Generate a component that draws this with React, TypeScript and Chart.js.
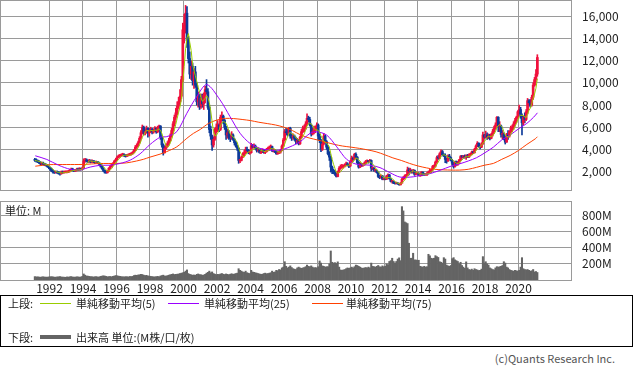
import React, { useEffect, useRef } from 'react';
import { Chart, registerables } from 'chart.js';

Chart.register(...registerables);

// ---- data: monthly candles, Feb 1991 .. Feb 2021 (one line per year) ----
const START_YEAR = 1991;
const START_MONTH = 2;

const opens = [
  3100, 3000, 2950, 2900, 2800, 2700, 2750, 2650, 2600, 2550, 2450,
  2350, 2200, 2050, 1950, 1900, 1950, 1900, 1850, 1800, 1950, 1900, 1950,
  1950, 1950, 2000, 2100, 2200, 2150, 2050, 2100, 2200, 2150, 2250, 2200,
  2300, 2950, 3050, 2950, 2900, 3000, 2850, 2950, 2900, 2800, 2850, 2800,
  2700, 2500, 2300, 2100, 1950, 1900, 2050, 2300, 2450, 2600, 2750, 2950,
  3100, 3300, 3400, 3450, 3500, 3550, 3450, 3400, 3450, 3500, 3550, 3600,
  3700, 3900, 4200, 4350, 4600, 5000, 5500, 6000, 5500, 5600, 5900, 5500,
  5700, 5800, 5600, 5700, 5900, 5600, 6000, 6100, 5100, 4400, 3700, 4100,
  4300, 4500, 4800, 5200, 5700, 6300, 6900, 7300, 7900, 8300, 8800, 10300,
  14800, 15200, 16300, 13800, 12200, 10800, 11500, 10200, 11000, 9800, 8300, 8800,
  7900, 8600, 8100, 8900, 9400, 9200, 7800, 5800, 5200, 4400, 4900, 5800,
  6000, 6200, 5800, 6900, 7000, 6600, 6000, 5300, 5500, 5100, 5000, 5300,
  4900, 4600, 4300, 4100, 3000, 3000, 3300, 3500, 3700, 4000, 3900, 3700,
  3700, 4300, 4200, 4300, 4100, 3900, 4000, 3700, 3800, 3950, 3700, 3800,
  4000, 4000, 4200, 4250, 3900, 3900, 3800, 3600, 3700, 3750, 3900, 4300,
  4850, 5600, 5500, 5400, 5900, 5200, 5100, 5200, 5000, 4700, 4800, 4500,
  5100, 5600, 5900, 5900, 6300, 6800, 6700, 6200, 5400, 5600, 5700, 5900,
  6200, 5200, 4800, 4000, 4500, 5200, 4700, 4200, 3600, 3300, 2400, 2000,
  1950, 1750, 1550, 1950, 2300, 2400, 2450, 2500, 2550, 2700, 2600, 2500,
  2900, 3200, 3100, 3550, 3300, 2800, 2400, 2700, 2600, 2600, 2700, 2900,
  2950, 2900, 3000, 2300, 2300, 2100, 2100, 1900, 1550, 1450, 1600, 1300,
  1350, 1300, 1600, 1700, 1350, 1100, 1100, 950, 900, 950, 870, 800,
  950, 1300, 1450, 1600, 1650, 2150, 2050, 2100, 1950, 2100, 1750, 1850,
  1850, 1650, 1650, 1950, 1750, 1700, 1700, 1850, 1950, 2050, 2150, 2450,
  2500, 2850, 3250, 3200, 3600, 3800, 3500, 3450, 3100, 2950, 3400, 3250,
  3000, 2750, 2450, 2900, 2650, 2800, 3050, 3350, 3300, 3350, 3300, 3400,
  3300, 3500, 3550, 3750, 3700, 4000, 4300, 4550, 4250, 4200, 4500, 5300,
  5100, 5300, 5100, 5150, 5000, 5300, 5600, 5900, 6200, 6900, 6100, 6100,
  5350, 5400, 5000, 4650, 5300, 5200, 5600, 5900, 6000, 6300, 6600, 6900,
  7400, 7600, 7000, 6400, 6900, 6700, 7400, 8400, 8200, 8000, 8700, 9800,
  10300, 10800,
];

const highs = [
  3200, 3150, 3050, 2980, 2900, 2850, 2850, 2750, 2700, 2650, 2500,
  2400, 2300, 2150, 2050, 2050, 2050, 1980, 1950, 2050, 2050, 2050, 2050,
  2050, 2100, 2200, 2300, 2300, 2200, 2200, 2300, 2300, 2350, 2300, 2400,
  3150, 3200, 3150, 3050, 3100, 3050, 3050, 3000, 2950, 2950, 2900, 2850,
  2750, 2600, 2350, 2150, 2000, 2100, 2350, 2550, 2700, 2800, 3000, 3200,
  3400, 3500, 3550, 3600, 3650, 3600, 3500, 3550, 3600, 3650, 3700, 3800,
  4000, 4350, 4500, 4750, 5150, 5700, 6200, 6100, 5800, 6100, 5950, 5900,
  6000, 5900, 5850, 6050, 5950, 6100, 6200, 6150, 5200, 4500, 4300, 4500,
  4700, 5000, 5400, 5900, 6500, 7100, 7700, 8300, 8700, 9400, 10600, 15400,
  16200, 17000, 16900, 14200, 12800, 12000, 11800, 11300, 11500, 10000, 9200, 9000,
  9000, 9000, 9100, 9700, 10300, 9500, 8000, 6100, 5300, 5100, 5900, 6300,
  6600, 6300, 7100, 7400, 7100, 6700, 6100, 5800, 5700, 5300, 5600, 5400,
  5000, 4700, 4400, 4150, 3200, 3400, 3700, 3900, 4200, 4200, 4000, 3900,
  4550, 4450, 4500, 4400, 4200, 4150, 4050, 3900, 4050, 4000, 3900, 4100,
  4200, 4300, 4400, 4300, 4050, 4000, 3900, 3800, 3850, 4000, 4400, 5000,
  5800, 5900, 5800, 6000, 6000, 5400, 5400, 5300, 5100, 5000, 4900, 5200,
  5800, 6100, 6200, 6500, 7200, 7000, 6900, 6300, 5900, 6100, 6100, 6400,
  6300, 5400, 4900, 4700, 5450, 5300, 4800, 4300, 3800, 3350, 2500, 2200,
  2100, 1850, 2050, 2450, 2600, 2650, 2600, 2700, 2850, 2800, 2650, 3000,
  3400, 3300, 3650, 3690, 3350, 2900, 2800, 2750, 2700, 2850, 3000, 3050,
  3000, 3100, 3050, 2400, 2350, 2200, 2150, 1950, 1650, 1700, 1650, 1400,
  1450, 1650, 1800, 1750, 1400, 1200, 1150, 1000, 1050, 1000, 900, 1000,
  1400, 1550, 1700, 1750, 2400, 2300, 2300, 2150, 2200, 2150, 1950, 1950,
  1900, 1800, 2000, 1950, 1800, 1800, 1950, 2050, 2200, 2200, 2550, 2600,
  2950, 3400, 3450, 3700, 3950, 3900, 3600, 3600, 3200, 3500, 3550, 3300,
  3100, 2800, 2950, 2950, 2900, 3100, 3450, 3450, 3450, 3500, 3500, 3550,
  3600, 3650, 3850, 3850, 4100, 4400, 4700, 4600, 4350, 4600, 5550, 5350,
  5650, 5500, 5400, 5350, 5450, 5800, 6100, 6400, 6950, 6950, 6500, 6200,
  5700, 5500, 5200, 5450, 5700, 5700, 6100, 6200, 6500, 6800, 7000, 7500,
  8000, 7800, 7200, 7000, 7300, 7600, 8600, 8500, 8500, 8900, 10000, 10500,
  11200, 12550,
];

const lows = [
  2900, 2850, 2800, 2700, 2600, 2620, 2580, 2520, 2480, 2380, 2250,
  2100, 1980, 1850, 1820, 1850, 1820, 1750, 1660, 1750, 1820, 1850, 1870,
  1880, 1900, 1950, 2050, 2050, 1980, 2000, 2050, 2080, 2100, 2120, 2150,
  2280, 2850, 2850, 2800, 2820, 2780, 2800, 2800, 2700, 2750, 2700, 2600,
  2400, 2200, 2000, 1850, 1820, 1850, 2000, 2250, 2400, 2550, 2700, 2900,
  3050, 3250, 3300, 3380, 3400, 3350, 3300, 3350, 3400, 3450, 3480, 3550,
  3650, 3850, 4100, 4250, 4550, 4950, 5400, 5300, 5300, 5450, 5100, 5200,
  5500, 5400, 5450, 5550, 5450, 5500, 5800, 4900, 4200, 3480, 3650, 4000,
  4200, 4400, 4700, 5100, 5500, 6100, 6700, 7100, 7700, 8100, 8600, 10100,
  13600, 14500, 13200, 11800, 10400, 10300, 9800, 9500, 9600, 8000, 7800, 7600,
  7700, 7800, 7600, 8200, 9000, 7600, 5500, 4900, 3900, 4200, 4800, 5500,
  5600, 5600, 5700, 6600, 6300, 5800, 4900, 5000, 4900, 4700, 4900, 4800,
  4400, 4200, 3900, 2740, 2800, 2950, 3250, 3400, 3600, 3750, 3600, 3550,
  3650, 4100, 4100, 4000, 3750, 3800, 3650, 3600, 3700, 3650, 3600, 3750,
  3850, 3900, 4050, 3800, 3750, 3700, 3550, 3550, 3600, 3650, 3850, 4250,
  4800, 5300, 5200, 5300, 5000, 4800, 4900, 4800, 4500, 4550, 4400, 4450,
  5000, 5500, 5600, 5800, 6200, 6500, 6100, 5200, 5300, 5400, 5500, 5800,
  4900, 4600, 3800, 3900, 4400, 4600, 4000, 3500, 3000, 1950, 1800, 1800,
  1650, 1500, 1520, 1900, 2200, 2300, 2300, 2400, 2500, 2500, 2350, 2450,
  2850, 3000, 3050, 3200, 2700, 2300, 2350, 2450, 2450, 2550, 2650, 2850,
  2750, 2850, 2050, 2150, 2000, 1950, 1850, 1450, 1350, 1400, 1250, 1250,
  1250, 1280, 1550, 1300, 1050, 950, 900, 860, 880, 850, 772, 780,
  950, 1250, 1350, 1500, 1600, 1700, 1850, 1850, 1850, 1650, 1700, 1750,
  1600, 1550, 1600, 1650, 1650, 1650, 1650, 1800, 1850, 1900, 2100, 2300,
  2400, 2800, 3100, 3150, 3550, 3400, 3350, 2800, 2750, 2900, 3150, 2950,
  2600, 2300, 2400, 2550, 2550, 2700, 2950, 3200, 3200, 3200, 3100, 3250,
  3250, 3400, 3500, 3600, 3650, 3950, 4250, 4200, 4050, 4150, 4450, 5000,
  5000, 4900, 4950, 4850, 4950, 5200, 5450, 5800, 6100, 5600, 5600, 5100,
  4950, 4850, 4480, 4650, 4900, 5100, 5500, 5600, 5800, 6100, 6400, 6800,
  7200, 6800, 5300, 6200, 6400, 6600, 7200, 7900, 7800, 7900, 8500, 9700,
  10100, 10600,
];

const closes = [
  3000, 2950, 2900, 2800, 2700, 2750, 2650, 2600, 2550, 2450, 2350,
  2200, 2050, 1950, 1900, 1950, 1900, 1850, 1800, 1950, 1900, 1950, 1950,
  1950, 2000, 2100, 2200, 2150, 2050, 2100, 2200, 2150, 2250, 2200, 2300,
  2950, 3050, 2950, 2900, 3000, 2850, 2950, 2900, 2800, 2850, 2800, 2700,
  2500, 2300, 2100, 1950, 1900, 2050, 2300, 2450, 2600, 2750, 2950, 3100,
  3300, 3400, 3450, 3500, 3550, 3450, 3400, 3450, 3500, 3550, 3600, 3700,
  3900, 4200, 4350, 4600, 5000, 5500, 6000, 5500, 5600, 5900, 5500, 5700,
  5800, 5600, 5700, 5900, 5600, 6000, 6100, 5100, 4400, 3700, 4100, 4300,
  4500, 4800, 5200, 5700, 6300, 6900, 7300, 7900, 8300, 8800, 10300, 14800,
  15200, 16300, 13800, 12200, 10800, 11500, 10200, 11000, 9800, 8300, 8800, 7900,
  8600, 8100, 8900, 9400, 9200, 7800, 5800, 5200, 4400, 4900, 5800, 6000,
  6200, 5800, 6900, 7000, 6600, 6000, 5300, 5500, 5100, 5000, 5300, 4900,
  4600, 4300, 4100, 3000, 3000, 3300, 3500, 3700, 4000, 3900, 3700, 3700,
  4300, 4200, 4300, 4100, 3900, 4000, 3700, 3800, 3950, 3700, 3800, 4000,
  4000, 4200, 4250, 3900, 3900, 3800, 3600, 3700, 3750, 3900, 4300, 4850,
  5600, 5500, 5400, 5900, 5200, 5100, 5200, 5000, 4700, 4800, 4500, 5100,
  5600, 5900, 5900, 6300, 6800, 6700, 6200, 5400, 5600, 5700, 5900, 6200,
  5200, 4800, 4000, 4500, 5200, 4700, 4200, 3600, 3300, 2400, 2000, 1950,
  1750, 1550, 1950, 2300, 2400, 2450, 2500, 2550, 2700, 2600, 2500, 2900,
  3200, 3100, 3550, 3300, 2800, 2400, 2700, 2600, 2600, 2700, 2900, 2950,
  2900, 3000, 2300, 2300, 2100, 2100, 1900, 1550, 1450, 1600, 1300, 1350,
  1300, 1600, 1700, 1350, 1100, 1100, 950, 900, 950, 870, 800, 950,
  1300, 1450, 1600, 1650, 2150, 2050, 2100, 1950, 2100, 1750, 1850, 1850,
  1650, 1650, 1950, 1750, 1700, 1700, 1850, 1950, 2050, 2150, 2450, 2500,
  2850, 3250, 3200, 3600, 3800, 3500, 3450, 3100, 2950, 3400, 3250, 3000,
  2750, 2450, 2900, 2650, 2800, 3050, 3350, 3300, 3350, 3300, 3400, 3300,
  3500, 3550, 3750, 3700, 4000, 4300, 4550, 4250, 4200, 4500, 5300, 5100,
  5300, 5100, 5150, 5000, 5300, 5600, 5900, 6200, 6900, 6100, 6100, 5350,
  5400, 5000, 4650, 5300, 5200, 5600, 5900, 6000, 6300, 6600, 6900, 7400,
  7600, 7000, 6400, 6900, 6700, 7400, 8400, 8200, 8000, 8700, 9800, 10300,
  10800, 12300,
];

// volume, millions of shares
const volumes = [
  42, 38, 40, 36, 35, 38, 40, 37, 35, 36, 38,
  40, 42, 38, 36, 35, 38, 40, 42, 38, 36, 35, 34,
  38, 36, 40, 42, 38, 35, 36, 40, 38, 36, 37, 45,
  75, 60, 50, 48, 45, 42, 40, 38, 40, 42, 38, 36,
  45, 48, 52, 50, 45, 40, 42, 44, 40, 45, 50, 55,
  52, 48, 45, 42, 40, 38, 42, 40, 38, 44, 42, 45,
  55, 60, 58, 62, 65, 70, 68, 60, 55, 58, 50, 48,
  45, 42, 40, 38, 42, 45, 40, 50, 55, 60, 50, 48,
  55, 60, 65, 70, 75, 68, 70, 72, 75, 80, 85, 90,
  95, 110, 125, 80, 70, 65, 60, 62, 58, 70, 75, 68,
  65, 60, 62, 70, 85, 95, 110, 90, 100, 80, 72, 65,
  70, 68, 75, 80, 72, 68, 75, 70, 65, 72, 78, 70,
  75, 80, 85, 140, 120, 110, 100, 95, 110, 90, 85, 80,
  120, 100, 95, 90, 85, 80, 75, 70, 72, 80, 85, 78,
  80, 85, 90, 110, 95, 100, 120, 115, 130, 125, 150, 160,
  227, 170, 150, 160, 175, 155, 140, 135, 130, 150, 160, 150,
  145, 150, 155, 165, 185, 170, 165, 175, 160, 150, 155, 150,
  165, 236, 210, 175, 170, 160, 165, 165, 200, 360, 220, 210,
  215, 205, 225, 160, 125, 120, 125, 130, 140, 150, 145, 150,
  160, 150, 165, 185, 180, 170, 160, 150, 145, 150, 155, 150,
  160, 150, 210, 170, 165, 160, 170, 180, 165, 160, 175, 165,
  170, 200, 190, 230, 240, 270, 230, 210, 230, 260, 275, 240,
  910, 857, 720, 710, 700, 456, 270, 270, 332, 250, 248, 245,
  245, 170, 165, 160, 170, 160, 165, 319, 300, 270, 265, 270,
  302, 290, 280, 227, 220, 210, 277, 260, 185, 175, 170, 180,
  265, 277, 250, 240, 230, 200, 220, 180, 160, 145, 225, 150,
  130, 125, 135, 120, 140, 130, 125, 118, 120, 135, 290, 210,
  227, 200, 185, 150, 140, 130, 125, 150, 165, 160, 165, 170,
  180, 227, 210, 160, 150, 130, 120, 115, 110, 120, 115, 110,
  120, 160, 277, 140, 130, 125, 130, 120, 110, 115, 130, 100,
  105, 93,
];

// moving averages: [year, value]
const ma25Points = [
  [1991.15, 3420], [1991.84, 3090], [1992.54, 2570], [1993.24, 2200], [1993.83, 2150],
  [1994.43, 2400], [1995.02, 2560], [1995.62, 2570], [1996.22, 2730], [1996.82, 3030],
  [1997.41, 3600], [1998.01, 4450], [1998.61, 5100], [1999.0, 5150], [1999.6, 5600],
  [2000.2, 7260], [2000.79, 8770], [2001.39, 9850], [2002.18, 8470], [2002.78, 6950],
  [2003.38, 5450], [2003.97, 4540], [2004.57, 4090], [2005.17, 3930], [2005.77, 3930],
  [2006.36, 4230], [2006.96, 4690], [2007.56, 5450], [2007.95, 5590], [2008.55, 5290],
  [2009.15, 4230], [2009.74, 3100], [2010.34, 2650], [2011.13, 2570], [2011.73, 2350],
  [2012.32, 1900], [2012.92, 1500], [2013.72, 1520], [2014.12, 1650], [2014.7, 1800],
  [2015.3, 2100], [2016.0, 2500], [2016.5, 2700], [2017.0, 2950], [2017.5, 3250],
  [2018.0, 3700], [2018.5, 4200], [2019.0, 4850], [2019.5, 5300], [2020.0, 5850],
  [2020.5, 6350], [2020.9, 6900], [2021.13, 7300],
];

const ma75Points = [
  [1991.15, 2480], [1991.6, 2560], [1992.0, 2620], [1993.0, 2630], [1994.0, 2640],
  [1995.0, 2720], [1996.0, 2730], [1996.6, 2780], [1997.2, 2950], [1997.6, 3100],
  [1998.0, 3300], [1998.6, 3570], [1999.0, 3800], [1999.6, 4230], [2000.2, 5000],
  [2000.6, 5450], [2001.0, 5800], [2001.5, 6350], [2002.0, 6650], [2002.5, 6800],
  [2003.0, 6780], [2003.5, 6700], [2004.0, 6600], [2004.5, 6450], [2005.0, 6330],
  [2005.5, 6200], [2006.0, 6000], [2006.5, 5700], [2007.0, 5300], [2007.5, 5030],
  [2008.0, 4850], [2008.5, 4650], [2009.0, 4450], [2009.5, 4300], [2010.0, 4200],
  [2010.5, 4090], [2011.0, 3950], [2011.5, 3780], [2012.0, 3520], [2012.5, 3230],
  [2013.0, 3000], [2013.5, 2730], [2014.0, 2500], [2014.5, 2330], [2015.0, 2200],
  [2015.5, 2150], [2016.0, 2130], [2016.5, 2130], [2017.0, 2200], [2017.5, 2380],
  [2018.0, 2580], [2018.5, 2730], [2019.0, 3100], [2019.5, 3450], [2020.0, 3900],
  [2020.5, 4450], [2021.0, 4950], [2021.13, 5140],
];

const yearTicks = [1992, 1994, 1996, 1998, 2000, 2002, 2004, 2006, 2008, 2010, 2012, 2014, 2016, 2018, 2020];
const priceTicks = [2000, 4000, 6000, 8000, 10000, 12000, 14000, 16000];
const volumeTicks = [200, 400, 600, 800];

// ---- styles ----
const FONT = '"Noto Sans CJK JP", "Noto Sans", sans-serif';
const GRID = '#9a9a9a';
const UP = '#f0103c';
const DOWN = '#0d3a9a';
const GREEN = '#99cc00';
const PURPLE = '#9a00ff';
const ORANGE = '#ff4000';
const VOL = '#646464';
const TEXT = '#222';

const XMIN = 1989.045;
const XMAX = 2023.194;

const monthX = (i: number) => START_YEAR + (START_MONTH - 1 + i + 0.5) / 12;

const framePlugin = {
  id: 'frame',
  beforeDatasetsDraw(chart: any) {
    const { ctx, chartArea: a } = chart;
    ctx.save();
    ctx.strokeStyle = GRID;
    ctx.lineWidth = 1;
    ctx.strokeRect(a.left + 0.5, a.top + 0.5, a.right - a.left - 1, a.bottom - a.top);
    ctx.restore();
  },
};

export default function App() {
  const priceRef = useRef<HTMLCanvasElement>(null);
  const volRef = useRef<HTMLCanvasElement>(null);

  useEffect(() => {
    Chart.defaults.font.family = FONT;
    const xs = closes.map((_, i) => monthX(i));
    const colors = closes.map((c, i) => (c >= opens[i] ? UP : DOWN));
    const ma5 = closes.map((_, i) => {
      const w = closes.slice(Math.max(0, i - 4), i + 1);
      return w.reduce((a, b) => a + b, 0) / w.length;
    });

    const xScaleBase = (showLabels: boolean, h: number) => ({
      type: 'linear' as const,
      min: XMIN,
      max: XMAX,
      offset: false,
      afterBuildTicks: (s: any) => {
        s.ticks = yearTicks.map((v) => ({ value: v }));
      },
      afterFit: (s: any) => {
        s.height = h;
        s.paddingLeft = 0;
        s.paddingRight = 0;
      },
      ticks: {
        display: showLabels,
        autoSkip: false,
        maxRotation: 0,
        padding: 1,
        color: TEXT,
        font: { size: 12, family: FONT },
        callback: (v: any) => String(v),
      },
      grid: { color: GRID, drawTicks: false, offset: false, lineWidth: 1 },
      border: { display: false },
    });

    const yScaleBase = (min: number, max: number, ticks: number[], fmt: (v: number) => string) => ({
      type: 'linear' as const,
      position: 'right' as const,
      min,
      max,
      afterBuildTicks: (s: any) => {
        s.ticks = ticks.map((v) => ({ value: v }));
      },
      afterFit: (s: any) => {
        s.width = 61;
        s.paddingTop = 0;
        s.paddingBottom = 0;
      },
      ticks: {
        padding: 10,
        color: TEXT,
        font: { size: 12, family: FONT },
        callback: (v: any) => fmt(Number(v)),
      },
      grid: { color: GRID, drawTicks: false, lineWidth: 1 },
      border: { display: false },
    });

    const priceChart = new Chart(priceRef.current as HTMLCanvasElement, {
      type: 'bar',
      data: {
        datasets: [
          {
            type: 'line',
            label: '単純移動平均(5)',
            data: ma5.map((v, i) => ({ x: xs[i], y: v })),
            borderColor: GREEN,
            borderWidth: 1,
            pointRadius: 0,
            tension: 0,
            order: 0,
          } as any,
          {
            type: 'line',
            label: '単純移動平均(25)',
            data: ma25Points.map(([x, y]) => ({ x, y })),
            borderColor: PURPLE,
            borderWidth: 1,
            pointRadius: 0,
            tension: 0.3,
            order: 1,
          } as any,
          {
            type: 'line',
            label: '単純移動平均(75)',
            data: ma75Points.map(([x, y]) => ({ x, y })),
            borderColor: ORANGE,
            borderWidth: 1,
            pointRadius: 0,
            tension: 0.3,
            order: 1,
          } as any,
          {
            type: 'bar',
            label: 'body',
            data: xs.map((x, i) => ({ x, y: [opens[i], closes[i]] })),
            backgroundColor: colors,
            barThickness: 2,
            minBarLength: 1,
            grouped: false,
            order: 2,
          } as any,
          {
            type: 'bar',
            label: 'wick',
            data: xs.map((x, i) => ({ x, y: [lows[i], highs[i]] })),
            backgroundColor: colors,
            barThickness: 1,
            grouped: false,
            order: 3,
          } as any,
        ],
      },
      options: {
        animation: false,
        responsive: false,
        devicePixelRatio: 1,
        events: [],
        layout: { padding: { left: 0, right: 0, top: 0, bottom: 2 } },
        plugins: { legend: { display: false }, tooltip: { enabled: false } },
        scales: {
          x: xScaleBase(false, 0) as any,
          y: yScaleBase(330, 17490, priceTicks, (v) => v.toLocaleString('en-US')) as any,
        },
      },
      plugins: [framePlugin],
    });

    const volChart = new Chart(volRef.current as HTMLCanvasElement, {
      type: 'bar',
      data: {
        datasets: [
          {
            label: '出来高',
            data: xs.map((x, i) => ({ x, y: volumes[i] })),
            backgroundColor: VOL,
            barPercentage: 1,
            categoryPercentage: 1,
            grouped: false,
          } as any,
        ],
      },
      options: {
        animation: false,
        responsive: false,
        devicePixelRatio: 1,
        events: [],
        layout: { padding: { left: 0, right: 0, top: 1, bottom: 0 } },
        plugins: { legend: { display: false }, tooltip: { enabled: false } },
        scales: {
          x: xScaleBase(true, 20) as any,
          y: yScaleBase(0, 980, volumeTicks, (v) => `${v}M`) as any,
        },
      },
      plugins: [framePlugin],
    });

    return () => {
      priceChart.destroy();
      volChart.destroy();
    };
  }, []);

  const txt = (left: number, centerY: number, s: string, extra: React.CSSProperties = {}) => (
    <span
      style={{
        position: 'absolute',
        left,
        top: centerY - 8,
        height: 16,
        lineHeight: '16px',
        fontSize: 11,
        fontFamily: FONT,
        color: TEXT,
        whiteSpace: 'nowrap',
        ...extra,
      }}
    >
      {s}
    </span>
  );

  const line = (left: number, top: number, color: string, thick: number) => (
    <div
      style={{
        position: 'absolute',
        left,
        top,
        width: 31,
        height: 0,
        borderTop: `${thick}px solid ${color}`,
      }}
    />
  );

  return (
    <div style={{ position: 'absolute', left: 0, top: 0, width: 633, height: 374, background: '#fff', overflow: 'hidden' }}>
      <canvas ref={priceRef} width={633} height={192} style={{ position: 'absolute', left: 0, top: 0, width: 633, height: 192 }} />
      <canvas ref={volRef} width={633} height={100} style={{ position: 'absolute', left: 0, top: 200, width: 633, height: 100 }} />
      {txt(5, 210, '単位: M')}
      <div
        style={{
          position: 'absolute',
          left: 0,
          top: 295,
          width: 633,
          height: 52,
          boxSizing: 'border-box',
          border: '1px solid #000',
        }}
      />
      {txt(8, 303, '上段:')}
      {line(40, 303, GREEN, 1)}
      {txt(76, 303, '単純移動平均(5)')}
      {line(168, 303, PURPLE, 1)}
      {txt(204, 303, '単純移動平均(25)')}
      {line(312, 303, ORANGE, 1)}
      {txt(346, 303, '単純移動平均(75)')}
      {txt(8, 337, '下段:')}
      {line(40, 335, VOL, 4)}
      {txt(76, 337, '出来高 単位:(M株/口/枚)')}
      <span
        style={{
          position: 'absolute',
          right: 18,
          top: 350,
          height: 16,
          lineHeight: '16px',
          fontSize: 11,
          fontFamily: FONT,
          color: '#555',
          whiteSpace: 'nowrap',
        }}
      >
        (c)Quants Research Inc.
      </span>
    </div>
  );
}
